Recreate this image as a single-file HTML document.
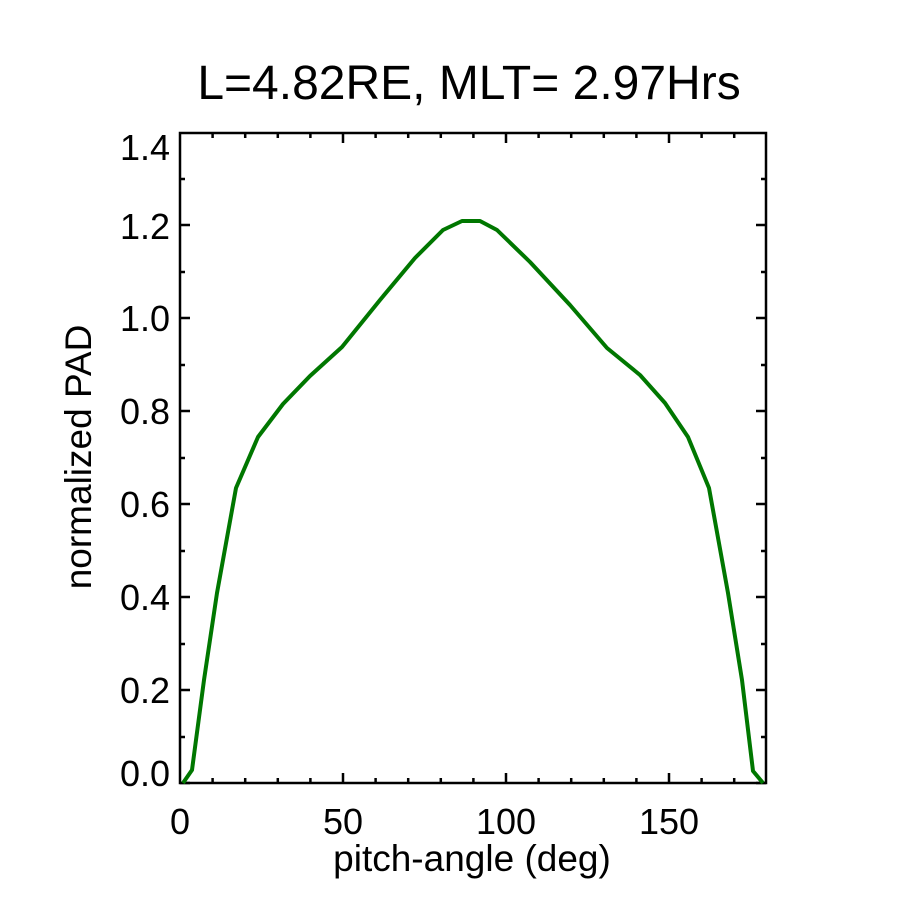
<!DOCTYPE html>
<html><head><style>body{margin:0;background:#fff}svg{display:block}text{font-family:"Liberation Sans",sans-serif;fill:#000}</style></head>
<body>
<svg width="900" height="900" viewBox="0 0 900 900" xmlns="http://www.w3.org/2000/svg">
<rect width="900" height="900" fill="#fff"/>
<text x="469" y="99" font-size="48" text-anchor="middle">L=4.82RE, MLT= 2.97Hrs</text>
<g stroke="#000" stroke-width="2.5" fill="none">
<rect x="180" y="133" width="586" height="650"/>
<path d="
M180,783h10M180,737h5M180,690h10M180,644h5M180,597h10M180,551h5M180,504h10M180,458h5M180,411h10M180,365h5M180,318h10M180,272h5M180,225h10M180,179h5
M766,783h-10M766,737h-5M766,690h-10M766,644h-5M766,597h-10M766,551h-5M766,504h-10M766,458h-5M766,411h-10M766,365h-5M766,318h-10M766,272h-5M766,225h-10M766,179h-5
M212.6,783v-5M245.2,783v-5M277.8,783v-5M310.4,783v-5M343,783v-10M375.6,783v-5M408.2,783v-5M440.8,783v-5M473.4,783v-5M506,783v-10M538.6,783v-5M571.2,783v-5M603.8,783v-5M636.4,783v-5M669,783v-10M701.6,783v-5M734.2,783v-5
M212.6,133v5M245.2,133v5M277.8,133v5M310.4,133v5M343,133v10M375.6,133v5M408.2,133v5M440.8,133v5M473.4,133v5M506,133v10M538.6,133v5M571.2,133v5M603.8,133v5M636.4,133v5M669,133v10M701.6,133v5M734.2,133v5"/>
</g>
<polyline fill="none" stroke="#007700" stroke-width="4" stroke-linejoin="round" points="183,783 192,770 204,680 217,593 236,488 258,437 283,404 310,376 342,347 380,300 415,258 443,230 462,221 480,221 497,230 530,262 570,305 607,348 640,375 665,403 688,437 709,488 728,593 742,680 753,771 763,783"/>
<g font-size="36" text-anchor="end">
<text x="170" y="786">0.0</text>
<text x="170" y="703">0.2</text>
<text x="170" y="610">0.4</text>
<text x="170" y="517">0.6</text>
<text x="170" y="424">0.8</text>
<text x="170" y="331">1.0</text>
<text x="170" y="239">1.2</text>
<text x="170" y="160">1.4</text>
</g>
<g font-size="36" text-anchor="middle">
<text x="180" y="834">0</text>
<text x="343" y="834">50</text>
<text x="506" y="834">100</text>
<text x="669" y="834">150</text>
<text x="472" y="871" font-size="37">pitch-angle (deg)</text>
<text transform="translate(91,457) rotate(-90)" font-size="37">normalized PAD</text>
</g>
</svg>
</body></html>
